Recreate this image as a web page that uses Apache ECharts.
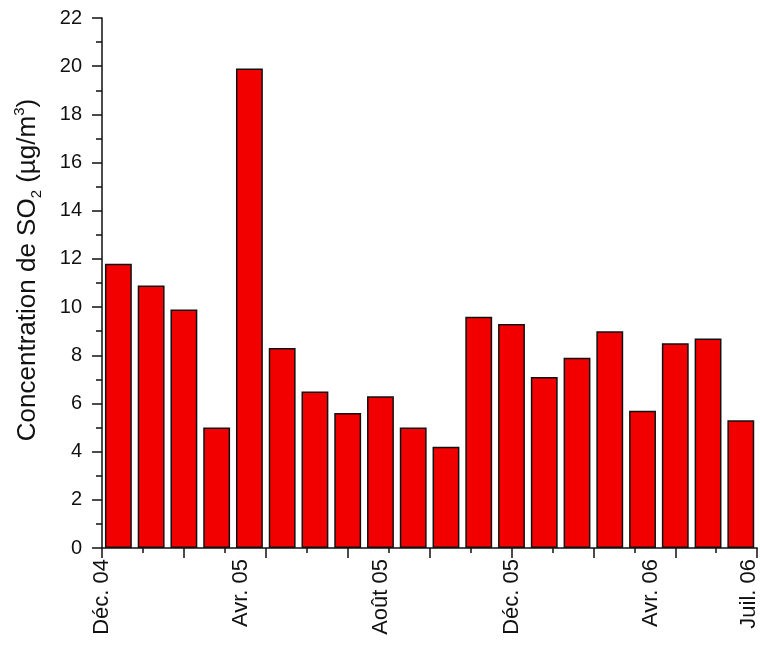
<!DOCTYPE html>
<html>
<head>
<meta charset="utf-8">
<script src="https://cdn.jsdelivr.net/npm/echarts@6/dist/echarts.min.js"></script>
<style>html,body{margin:0;padding:0;background:#fff}#c{width:760px;height:646px}</style>
</head>
<body>
<div id="c"></div>
<script>
var months = ['Déc. 04','Janv. 05','Févr. 05','Mars 05','Avr. 05','Mai 05','Juin 05','Juil. 05','Août 05','Sept. 05','Oct. 05','Nov. 05','Déc. 05','Janv. 06','Févr. 06','Mars 06','Avr. 06','Mai 06','Juin 06','Juil. 06'];
var so2 = [11.8, 10.9, 9.9, 5.0, 19.9, 8.3, 6.5, 5.6, 6.3, 5.0, 4.2, 9.6, 9.3, 7.1, 7.9, 9.0, 5.7, 8.5, 8.7, 5.3];
var tickLabels = ['Déc. 04','Avr. 05','Août 05','Déc. 05','Avr. 06','Juil. 06'];
var tickLabelAt = [0, 4.25, 8.5, 12.5, 16.75, 19.75];

var font = 'Liberation Sans, Arial, Helvetica, sans-serif';
var chart = echarts.init(document.getElementById('c'));
chart.setOption({
  animation: false,
  backgroundColor: '#fff',
  grid: {left: 102, right: 1, top: 18, bottom: 98, containLabel: false},
  xAxis: [
    {
      type: 'category', data: months, boundaryGap: true,
      axisLine: {show: false}, axisTick: {show: false}, axisLabel: {show: false}
    },
    {
      type: 'value', min: 0, max: months.length, interval: 2.5, position: 'bottom',
      axisLine: {show: true, onZero: false, lineStyle: {color: '#111', width: 1.5}},
      axisTick: {show: true, inside: false, length: 10, lineStyle: {color: '#111', width: 1.5}},
      minorTick: {show: true, splitNumber: 2, length: 5, lineStyle: {color: '#111', width: 1.5}},
      axisLabel: {show: false}, splitLine: {show: false}, minorSplitLine: {show: false}
    },
    {
      type: 'value', min: 0, max: months.length, interval: 0.25, position: 'bottom',
      axisLine: {show: false}, axisTick: {show: false}, splitLine: {show: false},
      axisLabel: {
        show: true, rotate: 90, margin: 11, fontSize: 22, fontFamily: font, color: '#111',
        showMinLabel: true, showMaxLabel: true,
        formatter: function (v) {
          for (var i = 0; i < tickLabelAt.length; i++) {
            if (Math.abs(v - tickLabelAt[i]) < 1e-6) return tickLabels[i];
          }
          return '';
        }
      }
    }
  ],
  yAxis: {
    type: 'value', min: 0, max: 22, interval: 2,
    name: 'Concentration de SO{sub|2} (µg/m{sup|3})',
    nameLocation: 'middle', nameGap: 58,
    nameTextStyle: {
      fontSize: 26, fontFamily: font, color: '#111', lineHeight: 32, padding: [0, 0, 0, 26],
      rich: {
        sub: {fontSize: 15, fontFamily: font, color: '#111', verticalAlign: 'bottom', lineHeight: 14},
        sup: {fontSize: 15, fontFamily: font, color: '#111', verticalAlign: 'top', lineHeight: 14}
      }
    },
    axisLine: {show: true, lineStyle: {color: '#111', width: 1.5}},
    axisTick: {show: true, inside: false, length: 10, lineStyle: {color: '#111', width: 1.5}},
    minorTick: {show: true, splitNumber: 2, length: 6, lineStyle: {color: '#111', width: 1.5}},
    axisLabel: {fontSize: 20, fontFamily: font, color: '#111', margin: 20},
    splitLine: {show: false}
  },
  series: [{
    type: 'bar', data: so2, xAxisIndex: 0, barCategoryGap: '18%',
    itemStyle: {color: '#f20000', borderColor: '#111', borderWidth: 1.5}
  }]
});
</script>
</body>
</html>
